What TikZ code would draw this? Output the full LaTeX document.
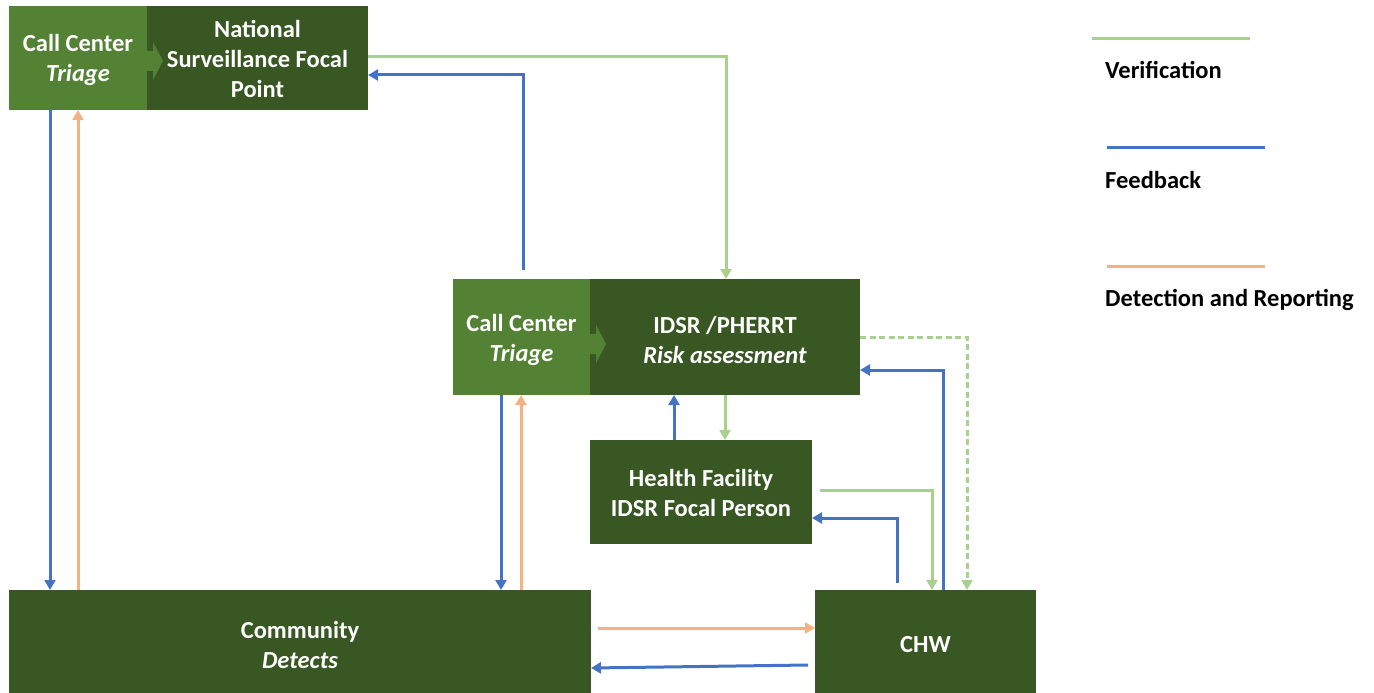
\documentclass[tikz,border=0pt]{standalone}
\usepackage{fontspec}
\setmainfont{Carlito}
\usetikzlibrary{arrows.meta}
\definecolor{darkgreen}{HTML}{385723}
\definecolor{lightgreen}{HTML}{548235}
\definecolor{verif}{HTML}{A9D18E}
\definecolor{feedb}{HTML}{4472C4}
\definecolor{detect}{HTML}{F4B183}
\begin{document}
\begin{tikzpicture}[x=1pt,y=-1pt,
  boxbase/.style={inner sep=0pt, outer sep=0pt, anchor=north west},
  darkbox/.style={boxbase, fill=darkgreen},
  lightbox/.style={boxbase, fill=lightgreen},
  boxtext/.style={text=white, font=\fontsize{24.5}{30}\selectfont\bfseries,
    align=center, inner sep=0pt},
  flow/.style={line width=3pt, -{Triangle[length=10pt,width=11pt]}},
  vf/.style={flow, draw=verif},
  fb/.style={flow, draw=feedb},
  dr/.style={flow, draw=detect},
  legline/.style={line width=3pt},
  legtext/.style={font=\fontsize{24.5}{30}\selectfont\bfseries, anchor=base west, inner sep=0pt}]
\useasboundingbox (0,0) rectangle (1374,693);

% boxes
\node[lightbox, minimum width=138pt, minimum height=104pt] (tlL) at (9,6) {};
\node[darkbox, minimum width=221pt, minimum height=104pt] (tlR) at (147,6) {};
\node[lightbox, minimum width=137pt, minimum height=116pt] (mL) at (453,279) {};
\node[darkbox, minimum width=270pt, minimum height=116pt] (mR) at (590,279) {};
\node[darkbox, minimum width=222pt, minimum height=104pt] (hf) at (590,440) {};
\node[darkbox, minimum width=582pt, minimum height=108pt] (comm) at (9,590) {};
\node[darkbox, minimum width=221pt, minimum height=108pt] (chw) at (815,590) {};

% hand-off chevrons between call centre and next stage
\fill[lightgreen] (tlR.west) +(0,-7) -- +(6,-7) -- +(6,-16) -- +(16,3)
  -- +(6,22) -- +(6,13) -- +(0,13) -- cycle;
\fill[lightgreen] (mR.west) +(0,-3) -- +(6,-3) -- +(6,-12) -- +(16,7)
  -- +(6,26) -- +(6,17) -- +(0,17) -- cycle;

% box captions
\node[boxtext] (tlLt) at ([yshift=-2pt]tlL.center) {Call Center\\\textit{Triage}};
\node[boxtext] (tlRt) at ([yshift=-1pt]tlR.center) {National\\Surveillance Focal\\Point};
\node[boxtext] (mLt) at ([yshift=-3pt]mL.center) {Call Center\\\textit{Triage}};
\node[boxtext] (mRt) at ([yshift=-3pt]mR.center) {IDSR /PHERRT\\\textit{Risk assessment}};
\node[boxtext] (hft) at ([yshift=-1pt]hf.center) {Health Facility\\IDSR Focal Person};
\node[boxtext] (commt) at ([yshift=-1pt]comm.center) {Community\\\textit{Detects}};
\node[boxtext] (chwt) at ([yshift=-1pt]chw.center) {CHW};

% connectors
\draw[fb] ([xshift=41pt]tlL.south west) -- ([xshift=41pt]comm.north west);
\draw[dr] ([xshift=69pt]comm.north west) -- ([xshift=69pt]tlL.south west);
\draw[vf] ([yshift=-51pt]tlR.north east) -| ([xshift=136pt]mR.north west);
\draw[fb] ([xshift=70pt,yshift=9pt]mL.north west) |- ([yshift=-69pt]tlR.north east);
\draw[fb] ([xshift=48pt]mL.south west) -- ([xshift=492pt]comm.north west);
\draw[dr] ([xshift=512pt]comm.north west) -- ([xshift=68pt]mL.south west);
\draw[fb] ([xshift=84pt]hf.north west) -- ([xshift=84pt]mR.south west);
\draw[vf] ([xshift=135pt]mR.south west) -- ([xshift=135pt]hf.north west);
\draw[vf, dash pattern=on 6pt off 3.5pt] ([yshift=-58pt]mR.north east) -| ([xshift=152pt]chw.north west);
\draw[fb] ([xshift=128pt]chw.north west) |- ([yshift=-91pt]mR.north east);
\draw[vf] ([xshift=8pt,yshift=-50pt]hf.north east) -| ([xshift=117pt]chw.north west);
\draw[fb] ([xshift=82pt,yshift=7pt]chw.north west) |- ([yshift=-78pt]hf.north east);
\draw[dr] ([xshift=7pt,yshift=-38pt]comm.north east) -- ([yshift=-38pt]chw.north west);
\draw[fb] ([xshift=-7pt,yshift=-75pt]chw.north west) -- ([yshift=-78pt]comm.north east);

% legend
\coordinate (lv1) at (1092,39);  \coordinate (lv2) at (1250,39);
\coordinate (lf1) at (1107,147); \coordinate (lf2) at (1265,147);
\coordinate (ld1) at (1107,266); \coordinate (ld2) at (1265,266);
\draw[legline, verif] (lv1) -- (lv2);
\draw[legline, feedb] (lf1) -- (lf2);
\draw[legline, detect] (ld1) -- (ld2);
\node[legtext] (tv) at (1105,79) {Verification};
\node[legtext] (tf) at (1105,188) {Feedback};
\node[legtext] (td) at (1105,306) {Detection and Reporting};
\end{tikzpicture}
\end{document}
